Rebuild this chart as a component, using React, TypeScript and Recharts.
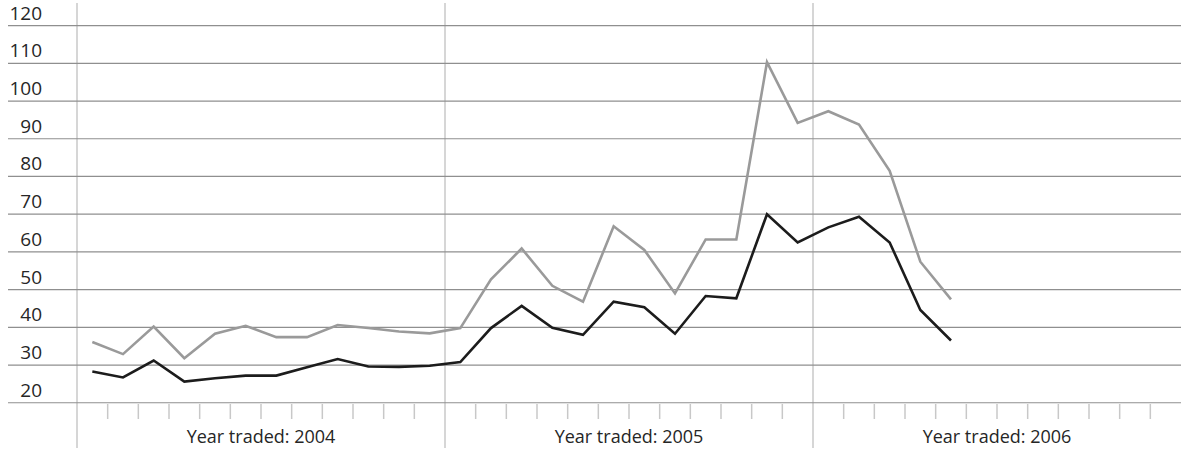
import { CartesianGrid, Line, LineChart, XAxis, YAxis } from "recharts";

const MONTHS = ["Jan", "Feb", "Mar", "Apr", "May", "Jun", "Jul", "Aug", "Sep", "Oct", "Nov", "Dec"];
const YEARS = [2004, 2005, 2006];
const YEAR_LABELS = ["Year traded: 2004", "Year traded: 2005", "Year traded: 2006"];
const Y_TICKS = [20, 30, 40, 50, 60, 70, 80, 90, 100, 110, 120];

// monthly values, Jan 2004 .. May 2006
const greyValues = [
  36.1, 32.9, 40.2, 31.8, 38.3, 40.4, 37.4, 37.4, 40.6, 39.8, 38.9, 38.4,
  39.8, 52.7, 60.9, 51.0, 46.8, 66.8, 60.5, 49.0, 63.3, 63.3, 110.3, 94.2,
  97.3, 93.8, 81.5, 57.4, 47.4,
];
const blackValues = [
  28.3, 26.7, 31.2, 25.6, 26.5, 27.2, 27.2, 29.4, 31.6, 29.6, 29.5, 29.8,
  30.8, 39.8, 45.7, 39.9, 38.0, 46.8, 45.3, 38.3, 48.3, 47.7, 70.0, 62.5,
  66.5, 69.3, 62.5, 44.6, 36.5,
];

const FONT = "'Open Sans', sans-serif";
const TEXT_COLOR = "#262626";
const GRID_COLOR = "#8f8f8f";
const DIVIDER_COLOR = "#c8c8c8";

const months = YEARS.flatMap((year) => MONTHS.map((m) => `${m} ${year}`));

const data = months.map((month, i) => ({
  month,
  pos: i + 0.5,
  grey: greyValues[i] ?? null,
  black: blackValues[i] ?? null,
}));

const monthTicks = months.map((_, i) => i + 1).filter((k) => k < months.length && k % 12 !== 0);
const yearTicks = [0, 12, 24];

function YTick({ x, y, payload }: { x?: number; y?: number; payload?: { value: number } }) {
  const px = x ?? 0;
  const py = y ?? 0;
  return (
    <g>
      <line x1={8} x2={px} y1={py} y2={py} stroke={GRID_COLOR} strokeWidth={1.2} />
      <text x={42} y={py - 6} textAnchor="end" fontFamily={FONT} fontSize={19} fill={TEXT_COLOR}>
        {payload?.value}
      </text>
    </g>
  );
}

function MonthTick({ x, y, payload }: { x?: number; y?: number; payload?: { value: number } }) {
  const px = x ?? 0;
  const py = y ?? 0;
  const k = payload?.value ?? 0;
  return (
    <g>
      <line x1={px} x2={px} y1={py - 45} y2={py - 30} stroke={DIVIDER_COLOR} strokeWidth={1.5} />
      {k % 12 === 6 && (
        <text x={px} y={py - 6} textAnchor="middle" fontFamily={FONT} fontSize={18} fill={TEXT_COLOR}>
          {YEAR_LABELS[Math.floor(k / 12)]}
        </text>
      )}
    </g>
  );
}

function EmptyTick() {
  return <g />;
}

export default function App() {
  return (
    <div style={{ position: "absolute", left: 0, top: 0, background: "#fff" }}>
      <LineChart width={1181} height={452} data={data} margin={{ top: 3, right: 0, bottom: 2, left: 0 }}>
        <CartesianGrid horizontal={false} syncWithTicks stroke={DIVIDER_COLOR} strokeWidth={1.5} />
        <CartesianGrid vertical={false} syncWithTicks stroke={GRID_COLOR} strokeWidth={1.2} />
        <XAxis
          dataKey="pos"
          type="number"
          domain={[0, 36]}
          ticks={yearTicks}
          interval={0}
          tick={<EmptyTick />}
          tickLine={false}
          axisLine={false}
          tickSize={0}
          height={1}
        />
        <XAxis
          xAxisId="months"
          dataKey="pos"
          type="number"
          domain={[0, 36]}
          ticks={monthTicks}
          interval={0}
          tick={<MonthTick />}
          tickLine={false}
          axisLine={false}
          tickSize={0}
          tickMargin={0}
          height={1}
        />
        <YAxis
          domain={[8, 126]}
          ticks={Y_TICKS}
          interval={0}
          width={77}
          tick={<YTick />}
          tickLine={false}
          axisLine={false}
          tickSize={0}
          tickMargin={0}
        />
        <Line
          dataKey="grey"
          stroke="#9a9a9a"
          strokeWidth={2.6}
          dot={false}
          isAnimationActive={false}
          strokeLinejoin="miter"
        />
        <Line
          dataKey="black"
          stroke="#1c1c1c"
          strokeWidth={2.6}
          dot={false}
          isAnimationActive={false}
          strokeLinejoin="miter"
        />
      </LineChart>
    </div>
  );
}
